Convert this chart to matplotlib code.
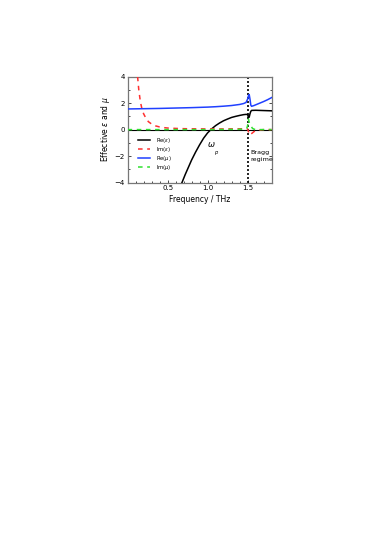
import matplotlib
matplotlib.use("Agg")
import matplotlib.pyplot as plt
from matplotlib.ticker import MultipleLocator

# Re(eps)
re_eps_x = [0.68, 0.72, 0.76, 0.80, 0.85, 0.90, 0.95, 1.00, 1.05, 1.10, 1.15, 1.20, 1.25, 1.30, 1.35, 1.40, 1.45, 1.48, 1.50, 1.505, 1.51, 1.52, 1.53, 1.54, 1.55, 1.60, 1.65, 1.70, 1.75, 1.80]
re_eps_y = [-4.0, -3.4, -2.85, -2.3, -1.7, -1.15, -0.65, -0.25, 0.05, 0.3, 0.5, 0.67, 0.8, 0.92, 1.0, 1.07, 1.13, 1.15, 1.14, 1.05, 0.9, 0.95, 1.2, 1.38, 1.45, 1.46, 1.45, 1.44, 1.43, 1.42]
# Im(eps)
im_eps_x = [0.125, 0.14, 0.16, 0.18, 0.20, 0.23, 0.26, 0.30, 0.35, 0.40, 0.45, 0.50, 0.60, 0.70, 0.80, 1.00, 1.20, 1.40, 1.48, 1.50, 1.51, 1.52, 1.53, 1.55, 1.58, 1.62, 1.70, 1.80]
im_eps_y = [4.0, 3.0, 2.1, 1.55, 1.2, 0.85, 0.6, 0.42, 0.28, 0.2, 0.15, 0.12, 0.09, 0.07, 0.06, 0.05, 0.05, 0.06, 0.07, 0.05, -0.15, -0.35, -0.4, -0.3, -0.15, -0.05, 0.0, 0.0]
# Re(mu)
re_mu_x = [0.0, 0.2, 0.4, 0.6, 0.8, 1.0, 1.1, 1.2, 1.3, 1.35, 1.40, 1.45, 1.48, 1.50, 1.51, 1.52, 1.53, 1.54, 1.55, 1.58, 1.62, 1.66, 1.70, 1.75, 1.80]
re_mu_y = [1.56, 1.58, 1.6, 1.63, 1.66, 1.7, 1.73, 1.77, 1.82, 1.86, 1.9, 1.97, 2.05, 2.3, 2.55, 2.65, 2.3, 1.85, 1.76, 1.82, 1.92, 2.02, 2.12, 2.26, 2.42]
# Im(mu)
im_mu_x = [0.0, 0.5, 1.0, 1.40, 1.48, 1.49, 1.50, 1.51, 1.52, 1.53, 1.54, 1.56, 1.58, 1.62, 1.80]
im_mu_y = [0.0, 0.0, 0.0, 0.02, 0.05, 0.1, 0.3, 0.8, 0.55, 0.4, 0.3, 0.1, 0.03, 0.0, 0.0]

fig = plt.figure(figsize=(3.82, 5.40), dpi=100)
ax = fig.add_axes([0.334, 0.662, 0.377, 0.196])

ax.axhline(0, color="black", lw=0.8, zorder=1)
ax.axvline(1.5, color="black", lw=1.2, ls=(0, (1.2, 1.2)), zorder=1)

ax.plot(re_eps_x, re_eps_y, color="black", lw=1.1, label=r"Re($\varepsilon$)", zorder=3)
ax.plot(im_eps_x, im_eps_y, color="#ff3030", lw=1.1, ls=(0, (3, 3)), label=r"Im($\varepsilon$)", zorder=3)
ax.plot(re_mu_x, re_mu_y, color="#2040ff", lw=1.1, label=r"Re($\mu$)", zorder=3)
ax.plot(im_mu_x, im_mu_y, color="#30e030", lw=1.1, ls=(0, (3, 3)), label=r"Im($\mu$)", zorder=4)

ax.set_xlim(0, 1.8)
ax.set_ylim(-4, 4)
ax.set_xticks([0.5, 1.0, 1.5])
ax.set_xticklabels(["0.5", "1.0", "1.5"])
ax.set_yticks([-4, -2, 0, 2, 4])
ax.xaxis.set_minor_locator(MultipleLocator(0.1))
ax.yaxis.set_minor_locator(MultipleLocator(1))
ax.tick_params(which="both", direction="in", top=False, right=True, labelsize=5, width=0.5)
ax.tick_params(which="major", length=2.5, pad=2)
ax.tick_params(which="minor", length=1.5)
for s in ax.spines.values():
    s.set_color("#777777")
    s.set_linewidth(0.9)

ax.set_xlabel("Frequency / THz", fontsize=5.5, labelpad=3)
ax.set_ylabel(r"Effective $\varepsilon$ and $\mu$", fontsize=5.5, labelpad=2)

ax.text(1.05, -1.12, r"$\omega$", fontsize=6, ha="center", va="center")
ax.text(1.105, -1.7, "p", fontsize=3.8, ha="center", va="center", style="italic")
ax.text(1.54, -2.0, "Bragg\nregime", fontsize=4.6, ha="left", va="center", linespacing=1.4)

leg = ax.legend(loc="upper left", bbox_to_anchor=(0.07, 0.44), fontsize=3.8, frameon=False,
                handlelength=2.3, handletextpad=1.2, labelspacing=0.0, borderaxespad=0,
                borderpad=0)

fig.savefig("out.png", dpi=100)
